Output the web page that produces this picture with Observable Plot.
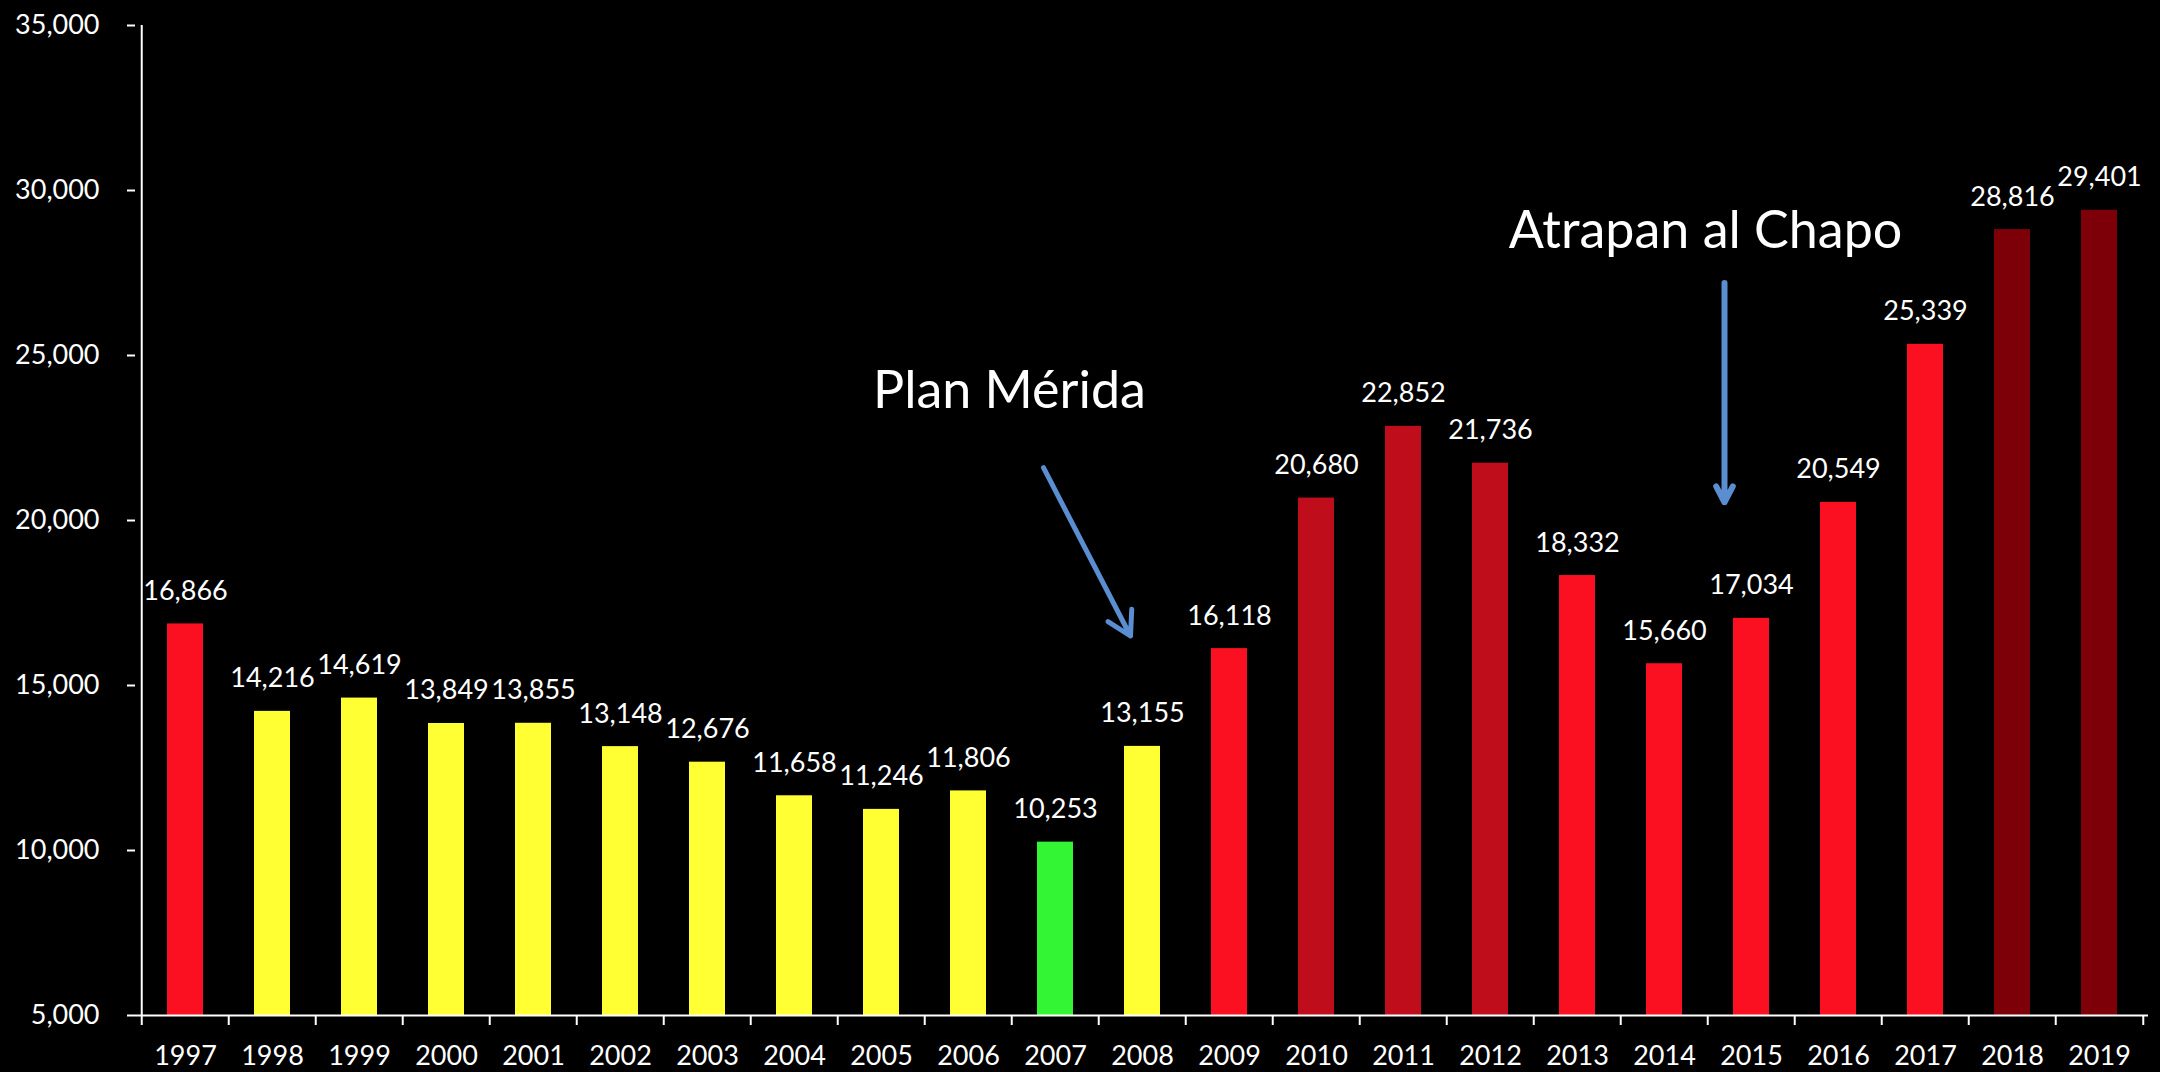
<!DOCTYPE html>
<html>
<head>
<meta charset="utf-8">
<script src="https://cdn.jsdelivr.net/npm/d3@7"></script>
<script src="https://cdn.jsdelivr.net/npm/@observablehq/plot@0.6"></script>
<style>
  html, body { margin: 0; padding: 0; background: #000; }
  #chart svg { display: block; }
</style>
</head>
<body>
<div id="chart"></div>
<script>
// ---- data ----
const years = ["1997","1998","1999","2000","2001","2002","2003","2004","2005","2006","2007","2008",
               "2009","2010","2011","2012","2013","2014","2015","2016","2017","2018","2019"];
const values = [16866,14216,14619,13849,13855,13148,12676,11658,11246,11806,10253,13155,
                16118,20680,22852,21736,18332,15660,17034,20549,25339,28816,29401];
const levels = ["alto","medio","medio","medio","medio","medio","medio","medio","medio","medio","bajo","medio",
                "alto","muy alto","muy alto","muy alto","alto","alto","alto","alto","alto","máximo","máximo"];
const levelNames = ["bajo","medio","alto","muy alto","máximo"];
const levelColors = ["#33f533","#ffff33","#fa1020","#c00d1c","#7d0008"];
const yTicks = [5000,10000,15000,20000,25000,30000,35000];
const yDomain = [5000, 35000];

const annotationTexts = ["Plan Mérida", "Atrapan al Chapo"];
const annotationYears = ["2007", "2015"];
const annotationValues = [23900, 28750];

const arrowFromYears = ["2007", "2015"];
const arrowToYears = ["2008", "2015"];
const arrowFromValues = [21600, 27200];
const arrowToValues = [16500, 20550];

const data = years.map((year, i) => ({year, value: values[i], level: levels[i]}));
const fmt = d3.format(",");

// ---- layout ----
const W = 2160, H = 1072;
const mL = 135, mR = 12, mT = 25, mB = 57;
const step = (W - mL - mR) / years.length;
const font = "Lato, 'Open Sans', sans-serif";
const arrowBlue = "#5a8ed0";

const chart = Plot.plot({
  width: W,
  height: H,
  marginLeft: mL,
  marginRight: mR,
  marginTop: mT,
  marginBottom: mB,
  style: {background: "#000", color: "#fff", fontFamily: font},
  x: {type: "band", domain: years, paddingInner: 0.59, paddingOuter: 0.295, axis: null},
  y: {domain: yDomain, axis: null},
  color: {domain: levelNames, range: levelColors},
  marks: [
    Plot.barY(data, {x: "year", y1: yDomain[0], y2: "value", fill: "level"}),
    Plot.text(data, {x: "year", y: "value", text: d => fmt(d.value), lineAnchor: "bottom", dy: -24,
                     fill: "#fff", fontSize: 27, fontFamily: font}),
    // axes lines
    Plot.ruleY([yDomain[0]], {stroke: "#fff", strokeWidth: 2}),
    Plot.ruleX([years[0]], {y1: yDomain[0], y2: yDomain[1], dx: -step / 2, stroke: "#fff", strokeWidth: 2}),
    // y axis
    Plot.axisY({ticks: yTicks, tickSize: 8, tickPadding: 28, tickFormat: fmt, fontSize: 27,
                fontFamily: font, color: "#fff", strokeWidth: 2, label: null}),
    // x axis labels
    Plot.axisX({tickSize: 0, tickPadding: 30, fontSize: 27, fontFamily: font, color: "#fff", label: null}),
    // x axis ticks at category boundaries
    Plot.axisX({tickSize: 10, tickFormat: () => "", dx: -step / 2, color: "#fff", strokeWidth: 2, label: null}),
    Plot.axisX({ticks: [years[years.length - 1]], tickSize: 10, tickFormat: () => "", dx: step / 2,
                color: "#fff", strokeWidth: 2, label: null}),
    // annotations
    Plot.arrow([0], {x1: () => arrowFromYears[0], y1: () => arrowFromValues[0],
                     x2: () => arrowToYears[0], y2: () => arrowToValues[0],
                     dx: -12, stroke: arrowBlue, strokeWidth: 5, headLength: 8}),
    Plot.arrow([1], {x1: () => arrowFromYears[1], y1: () => arrowFromValues[1],
                     x2: () => arrowToYears[1], y2: () => arrowToValues[1],
                     dx: -27, stroke: arrowBlue, strokeWidth: 6, headLength: 4.5, headAngle: 55}),
    Plot.text([0], {x: () => annotationYears[0], y: () => annotationValues[0], text: () => annotationTexts[0],
                    dx: -46, fill: "#fff", fontSize: 52, fontFamily: font, lineAnchor: "middle"}),
    Plot.text([1], {x: () => annotationYears[1], y: () => annotationValues[1], text: () => annotationTexts[1],
                    dx: -46, fill: "#fff", fontSize: 52, fontFamily: font, lineAnchor: "middle"})
  ]
});

document.getElementById("chart").appendChild(chart);
</script>
</body>
</html>
